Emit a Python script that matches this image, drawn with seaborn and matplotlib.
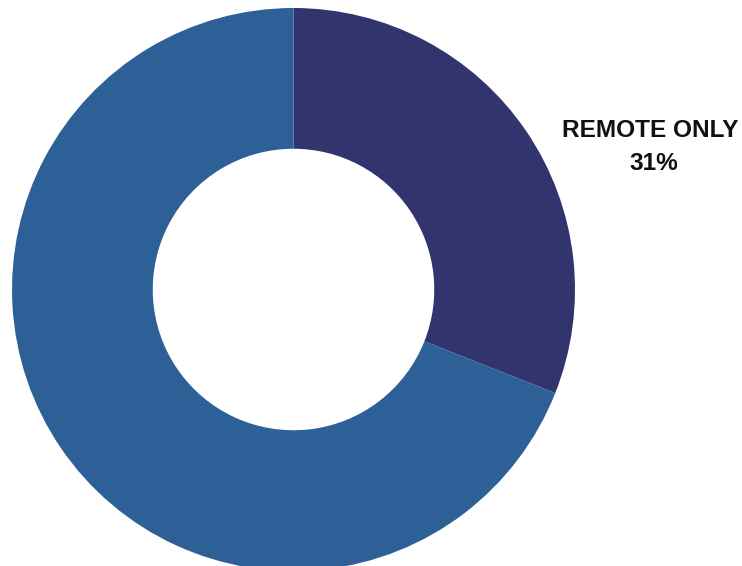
import matplotlib
matplotlib.use("Agg")
import matplotlib.pyplot as plt
import seaborn as sns

categories = ["REMOTE ONLY", "OTHER"]
values = [31, 69]
colors = ["#32356D", "#2E6098"]
show_label = [True, False]

sns.set_theme(style="white")
plt.rcParams['font.family'] = ['Liberation Sans', 'DejaVu Sans']

W, H = 742, 566
fig = plt.figure(figsize=(W / 100, H / 100), dpi=100)
ax = fig.add_axes([0, 0, 1, 1])

cx, cy, r = 293.5, H - 289.5, 281.5
ax.pie(values, colors=colors, startangle=90, counterclock=False,
       center=(cx, cy), radius=r, frame=True,
       wedgeprops=dict(width=r * 0.5, linewidth=0))
ax.set_xlim(0, W)
ax.set_ylim(0, H)
ax.set_aspect("equal")
ax.axis("off")

for cat, val, show in zip(categories, values, show_label):
    if show:
        ax.text(650.5, H - 130.5, cat, ha="center", va="center",
                fontsize=17.6, fontweight="bold", color="#111111")
        ax.text(654, H - 163.5, f"{val}%", ha="center", va="center",
                fontsize=17.6, fontweight="bold", color="#111111")

fig.savefig("out.png", dpi=100)
